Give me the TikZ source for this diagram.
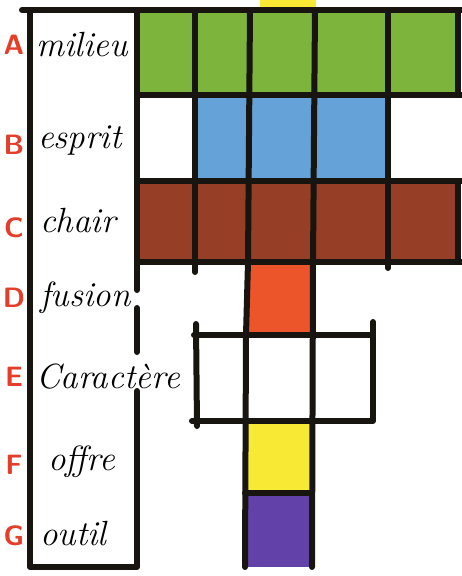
\documentclass[tikz,border=0pt]{standalone}
\usepackage{tikz}
\definecolor{LCGreen}{RGB}{124,180,60}
\definecolor{LCBlue}{RGB}{100,162,216}
\definecolor{LCBrown}{RGB}{150,62,38}
\definecolor{LCOrange}{RGB}{236,84,42}
\definecolor{LCYellow}{RGB}{248,234,52}
\definecolor{LCPurple}{RGB}{98,66,168}
\definecolor{LCRed}{RGB}{228,62,42}
\definecolor{LCInk}{RGB}{24,20,16}

\begin{document}
\begin{tikzpicture}[x=1pt, y=-1pt,
          ink/.style={line width=6pt, line cap=round, line join=round, LCInk},
          letter/.style={font=\sffamily\bfseries\fontsize{28}{28}\selectfont, text=LCRed},
          word/.style={anchor=base west, inner sep=0pt,
                       font=\itshape\fontsize{35}{38}\selectfont}
        ]
        \useasboundingbox (0,0) rectangle (462,576);

        % colour fields
        \fill[LCYellow] (260,0) rectangle (316,8);
        \fill[LCGreen]  (137,9) rectangle (458,95);
        \fill[LCBlue]   (195,95) rectangle (388,181);
        \fill[LCBrown]  (137,181) rectangle (458,262);
        \fill[LCOrange] (248,262) rectangle (312,335);
        \fill[LCYellow] (245,421) rectangle (312,493);
        \fill[LCPurple] (245,493) rectangle (312,567);

        % label column
        \draw[ink] (22,10) -- (462,10);
        \draw[ink] (30,10) -- (30,567) -- (137,567) -- (137,391);
        \draw[ink] (137,352) -- (137,308);
        \draw[ink] (137,290) -- (137,10);

        % grid
        \draw[ink] (137,95) -- (462,95);
        \draw[ink] (137,181) -- (462,181);
        \draw[ink] (137,262) -- (462,262);
        \draw[ink] (195,10) -- (195,272);
        \draw[ink] (250,10) -- (248,262) -- (246,335) -- (245,567);
        \draw[ink] (315,10) -- (313,262) -- (312,567);
        \draw[ink] (388,10) -- (388,268);
        \draw[ink] (458,10) -- (458,95);
        \draw[ink] (458,181) -- (458,262);

        % Caractere row
        \draw[ink] (194,335) -- (373,335);
        \draw[ink] (196,324) -- (197,426);
        \draw[ink] (373,322) -- (373,421) -- (192,421);
        \draw[ink] (245,493) -- (312,493);

        \node[letter] (la) at (14,45)  {A};
        \node[letter] (lb) at (14,145) {B};
        \node[letter] (lc) at (14,228) {C};
        \node[letter] (ld) at (14,298) {D};
        \node[letter] (le) at (14,377) {E};
        \node[letter] (lf) at (14,465) {F};
        \node[letter] (lg) at (14,536) {G};

        \node[word] (milieu)    at (36,56)  {milieu};
        \node[word] (esprit)    at (38,148) {esprit};
        \node[word] (chair)     at (40,232) {chair};
        \node[word] (fusion)    at (40,306) {fusion};
        \node[word] (caractere) at (36,388) {Caract\`ere};
        \node[word] (offre)     at (48,470) {offre};
        \node[word] (outil)     at (40,545) {outil};
      \end{tikzpicture}
\end{document}
